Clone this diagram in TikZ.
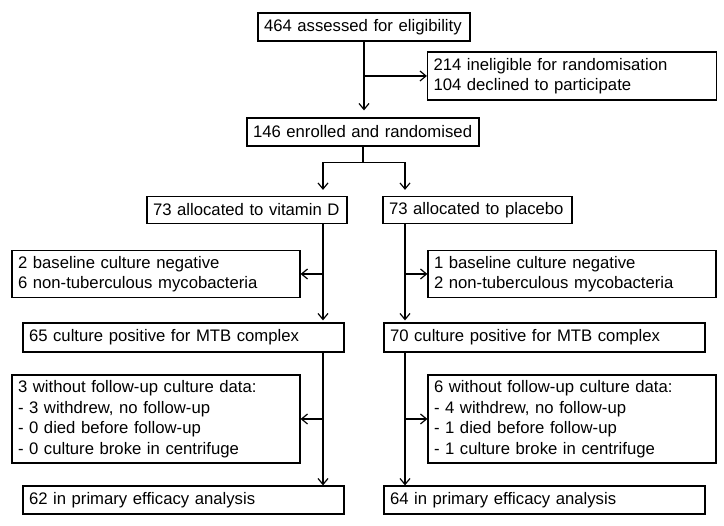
\documentclass[tikz,border=0pt]{standalone}
\usepackage{fontspec}
\setmainfont{Liberation Sans}
\usepackage{tikz}
\usetikzlibrary{arrows.meta, positioning, calc}

\begin{document}
\begin{tikzpicture}[x=1pt, y=-1pt,
        >={Straight Barb[length=6pt, width=10pt]},
        box/.style={draw, line width=1.2pt, align=left, inner xsep=6pt, inner ysep=0pt,
                    font=\fontsize{16.7}{20.5}\selectfont},
        arr/.style={->, line width=1.2pt},
        lin/.style={line width=1.2pt},
    ]
    \useasboundingbox (0,0) rectangle (724,526);

    % ---- Screening ----
    \node[box, text width=200pt, minimum height=28pt] (assess) at (364, 27)
        {464 assessed for eligibility};
    \node[box, text width=277pt, minimum height=48pt] (excl) at (572, 76)
        {214 ineligible for randomisation\\104 declined to participate};
    \node[box, text width=220pt, minimum height=28pt] (rand) at (363, 132)
        {146 enrolled and randomised};

    \draw[arr, shorten >=7pt] (assess.south) -- (assess.south |- rand.north);
    \draw[arr] (assess.south |- excl.west) -- (excl.west);

    % ---- Allocation ----
    \coordinate (lcol) at (323, 0);
    \coordinate (rcol) at (405, 0);
    \node[box, text width=188pt, minimum height=27pt] (vitd) at (247, 210)
        {73 allocated to vitamin D};
    \node[box, text width=177pt, minimum height=27pt] (plac) at (477.5, 210)
        {73 allocated to placebo};

    \draw[lin] (rand.south) -- ++(0,16) coordinate (split);
    \draw[arr, shorten >=6pt] (split) -| (lcol |- vitd.north);
    \draw[arr, shorten >=6pt] (split) -| (rcol |- plac.north);

    % ---- Vitamin D arm ----
    \node[box, text width=276pt, minimum height=47pt] (negL) at (156, 274)
        {2 baseline culture negative\\6 non-tuberculous mycobacteria};
    \node[box, text width=309pt, minimum height=29pt] (posL) at (183.5, 337.5)
        {65 culture positive for MTB complex};
    \node[box, text width=276pt, minimum height=88pt] (lossL) at (156, 419)
        {3 without follow-up culture data:\\- 3 withdrew, no follow-up\\- 0 died before follow-up\\- 0 culture broke in centrifuge};
    \node[box, text width=309pt, minimum height=28pt] (anaL) at (183.5, 500)
        {62 in primary efficacy analysis};

    \draw[arr, shorten >=2pt] (lcol |- vitd.south) -- (lcol |- posL.north);
    \draw[arr] (lcol |- negL.east) -- (negL.east);
    \draw[arr] (lcol |- posL.south) -- (lcol |- anaL.north);
    \draw[arr] (lcol |- lossL.east) -- (lossL.east);

    % ---- Placebo arm ----
    \node[box, text width=276pt, minimum height=47pt] (negR) at (572, 274)
        {1 baseline culture negative\\2 non-tuberculous mycobacteria};
    \node[box, text width=309pt, minimum height=29pt] (posR) at (544.5, 337.5)
        {70 culture positive for MTB complex};
    \node[box, text width=276pt, minimum height=88pt] (lossR) at (572, 419)
        {6 without follow-up culture data:\\- 4 withdrew, no follow-up\\- 1 died before follow-up\\- 1 culture broke in centrifuge};
    \node[box, text width=309pt, minimum height=28pt] (anaR) at (544.5, 500)
        {64 in primary efficacy analysis};

    \draw[arr, shorten >=2pt] (rcol |- plac.south) -- (rcol |- posR.north);
    \draw[arr] (rcol |- negR.west) -- (negR.west);
    \draw[arr] (rcol |- posR.south) -- (rcol |- anaR.north);
    \draw[arr] (rcol |- lossR.west) -- (lossR.west);

\end{tikzpicture}
\end{document}
